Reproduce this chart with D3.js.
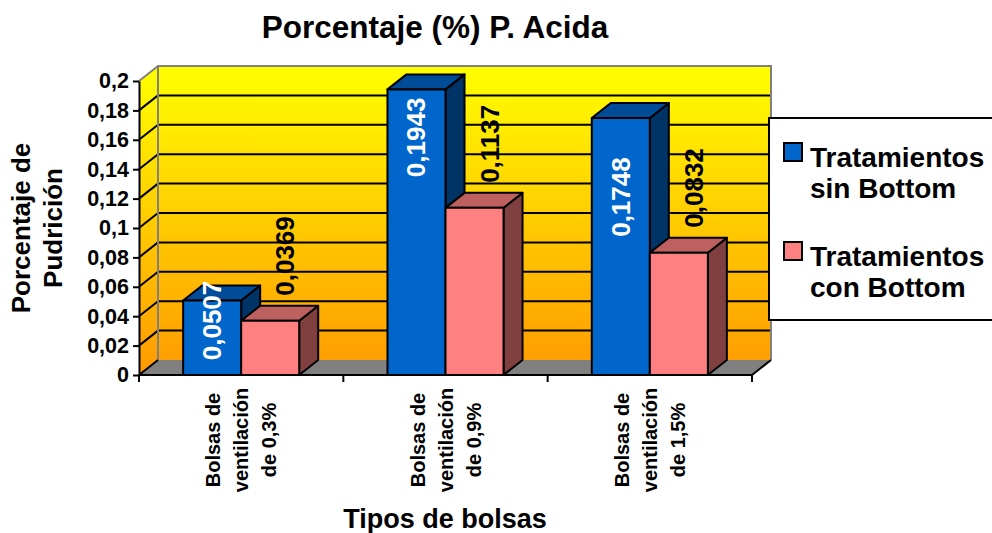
<!DOCTYPE html>
<html>
<head>
<meta charset="utf-8">
<script src="https://cdn.jsdelivr.net/npm/d3@7.9.0/dist/d3.min.js"></script>
<style>
  body { margin: 0; background: #fff; }
  svg { display: block; font-family: Arial, "Liberation Sans", sans-serif; font-weight: bold; }
</style>
</head>
<body>
<svg id="chart" width="992" height="533"></svg>
<script>
// Data
const categories = ["Bolsas de ventilación de 0,3%", "Bolsas de ventilación de 0,9%", "Bolsas de ventilación de 1,5%"];
const categoryLines = [
  ["Bolsas de", "ventilación", "de 0,3%"],
  ["Bolsas de", "ventilación", "de 0,9%"],
  ["Bolsas de", "ventilación", "de 1,5%"]
];
const seriesNames = ["Tratamientos sin Bottom", "Tratamientos con Bottom"];
const sinBottom = [0.0507, 0.1943, 0.1748];
const conBottom = [0.0369, 0.1137, 0.0832];
const yTicks = [0, 0.02, 0.04, 0.06, 0.08, 0.1, 0.12, 0.14, 0.16, 0.18, 0.2];
const yTickLabels = ["0", "0,02", "0,04", "0,06", "0,08", "0,1", "0,12", "0,14", "0,16", "0,18", "0,2"];

const svg = d3.select("#chart");

// Layout of the 3D plot (front plane + depth offset)
const plotLeft = 139, plotRight = 752, plotBottom = 375, plotTop = 81;
const dx = 19, dy = 15;

const x = d3.scaleBand().domain(categories).range([plotLeft, plotRight])
  .paddingInner(0.432).paddingOuter(0.216);
const xs = d3.scaleBand().domain(seriesNames).range([0, x.bandwidth()]);
const y = d3.scaleLinear().domain([0, 0.2]).range([plotBottom, plotTop]);

const colors = {
  "Tratamientos sin Bottom": { front: "#0066CC", top: "#004C99", side: "#003366" },
  "Tratamientos con Bottom": { front: "#FF8080", top: "#BF6060", side: "#804040" }
};

const fmt = d3.formatLocale({ decimal: ",", thousands: ".", grouping: [3], currency: ["", ""] }).format(".4f");

// Background gradient
const defs = svg.append("defs");
const grad = defs.append("linearGradient").attr("id", "wallGrad")
  .attr("gradientUnits", "userSpaceOnUse")
  .attr("x1", 0).attr("y1", y(0.2) - dy).attr("x2", 0).attr("y2", plotBottom);
grad.append("stop").attr("offset", "0%").attr("stop-color", "#FFFF00");
grad.append("stop").attr("offset", "100%").attr("stop-color", "#FF9900");

// Back wall
svg.append("rect")
  .attr("x", plotLeft + dx).attr("y", y(0.2) - dy)
  .attr("width", plotRight - plotLeft).attr("height", y(0) - y(0.2))
  .attr("fill", "url(#wallGrad)");

// Side wall
svg.append("path")
  .attr("d", `M${plotLeft},${y(0)} L${plotLeft},${y(0.2)} L${plotLeft + dx},${y(0.2) - dy} L${plotLeft + dx},${y(0) - dy} Z`)
  .attr("fill", "url(#wallGrad)");

// Gridlines on back wall and side wall
yTicks.slice(1, -1).forEach(t => {
  svg.append("line")
    .attr("x1", plotLeft + dx).attr("x2", plotRight + dx)
    .attr("y1", y(t) - dy).attr("y2", y(t) - dy)
    .attr("stroke", "#000").attr("stroke-width", 2);
  svg.append("line")
    .attr("x1", plotLeft).attr("x2", plotLeft + dx)
    .attr("y1", y(t)).attr("y2", y(t) - dy)
    .attr("stroke", "#000").attr("stroke-width", 2);
});

// Wall borders (gray)
svg.append("path")
  .attr("d", `M${plotLeft},${y(0.2)} L${plotLeft + dx},${y(0.2) - dy} L${plotRight + dx},${y(0.2) - dy} L${plotRight + dx},${y(0) - dy}`)
  .attr("fill", "none").attr("stroke", "#808080").attr("stroke-width", 2);
svg.append("line")
  .attr("x1", plotLeft + dx).attr("x2", plotLeft + dx)
  .attr("y1", y(0.2) - dy).attr("y2", y(0) - dy)
  .attr("stroke", "#808080").attr("stroke-width", 2);

// Floor
svg.append("path")
  .attr("d", `M${plotLeft},${y(0)} L${plotRight},${y(0)} L${plotRight + dx},${y(0) - dy} L${plotLeft + dx},${y(0) - dy} Z`)
  .attr("fill", "#808080");
svg.append("path")
  .attr("d", `M${plotLeft},${y(0)} L${plotLeft + dx},${y(0) - dy} M${plotRight},${y(0)} L${plotRight + dx},${y(0) - dy}`)
  .attr("stroke", "#000").attr("stroke-width", 2);

// Bars
const rows = categories.map((c, i) => ({ cat: c, values: [
  { name: seriesNames[0], value: sinBottom[i] },
  { name: seriesNames[1], value: conBottom[i] }
]}));

rows.forEach(r => {
  r.values.forEach(d => {
    const x0 = x(r.cat) + xs(d.name), w = xs.bandwidth();
    const yt = y(d.value), yb = y(0);
    const c = colors[d.name];
    const g = svg.append("g").attr("stroke", "#000").attr("stroke-width", 2).attr("stroke-linejoin", "round");
    g.append("path")
      .attr("d", `M${x0 + w},${yb} L${x0 + w},${yt} L${x0 + w + dx},${yt - dy} L${x0 + w + dx},${yb - dy} Z`)
      .attr("fill", c.side);
    g.append("path")
      .attr("d", `M${x0},${yt} L${x0 + dx},${yt - dy} L${x0 + w + dx},${yt - dy} L${x0 + w},${yt} Z`)
      .attr("fill", c.top);
    g.append("rect")
      .attr("x", x0).attr("y", yt).attr("width", w).attr("height", yb - yt)
      .attr("fill", c.front);
  });
});

// Y axis
const yAxis = svg.append("g")
  .attr("transform", `translate(${plotLeft},0)`)
  .call(d3.axisLeft(y).tickValues(yTicks).tickFormat((d, i) => yTickLabels[i]).tickSize(6).tickSizeOuter(0));
yAxis.select(".domain").attr("stroke", "#000").attr("stroke-width", 2);
yAxis.selectAll(".tick line").attr("stroke", "#000").attr("stroke-width", 2);
yAxis.selectAll(".tick text")
  .attr("font-size", 21.5).attr("font-weight", "bold").attr("font-family", "Arial, 'Liberation Sans', sans-serif")
  .attr("fill", "#000").attr("x", -10);

// X axis (ticks between categories)
svg.append("line")
  .attr("x1", plotLeft).attr("x2", plotRight).attr("y1", plotBottom).attr("y2", plotBottom)
  .attr("stroke", "#000").attr("stroke-width", 2);
const tickXs = [plotLeft].concat(categories.map(c => x(c) + x.bandwidth() + x.step() * x.paddingInner() / 2));
svg.selectAll(".xtick").data(tickXs).join("line")
  .attr("class", "xtick")
  .attr("x1", d => d).attr("x2", d => d).attr("y1", plotBottom).attr("y2", plotBottom + 7)
  .attr("stroke", "#000").attr("stroke-width", 2);

// Category labels (rotated)
categories.forEach((c, i) => {
  const cx = x(c) + x.bandwidth() / 2;
  categoryLines[i].forEach((t, j) => {
    svg.append("text")
      .attr("transform", `translate(${cx + (j - 1) * 28},440) rotate(-90)`)
      .attr("text-anchor", "middle").attr("dominant-baseline", "central")
      .attr("font-size", 20)
      .text(t);
  });
});

// Value labels
const blueShift = [20, 48, 79];
rows.forEach((r, i) => {
  const bx = x(r.cat) + xs(seriesNames[0]) + xs.bandwidth() / 2;
  svg.append("text")
    .attr("transform", `translate(${bx},${y(sinBottom[i]) + blueShift[i]}) rotate(-90)`)
    .attr("text-anchor", "middle").attr("dominant-baseline", "central")
    .attr("font-size", 26).attr("fill", "#fff")
    .text(fmt(sinBottom[i]));
  const px = x(r.cat) + xs(seriesNames[1]) + xs.bandwidth() / 2 + 15;
  svg.append("text")
    .attr("transform", `translate(${px},${y(conBottom[i]) - 25}) rotate(-90)`)
    .attr("text-anchor", "start").attr("dominant-baseline", "central")
    .attr("font-size", 26).attr("fill", "#000")
    .text(fmt(conBottom[i]));
});

// Title
svg.append("text")
  .attr("x", 435).attr("y", 38)
  .attr("text-anchor", "middle").attr("font-size", 31.5)
  .text("Porcentaje (%) P. Acida");

// Y title
[["Porcentaje de", 21], ["Pudrición", 53]].forEach(([t, cx]) => {
  svg.append("text")
    .attr("transform", `translate(${cx},228) rotate(-90)`)
    .attr("text-anchor", "middle").attr("dominant-baseline", "central")
    .attr("font-size", 26)
    .text(t);
});

// X title
svg.append("text")
  .attr("x", 445).attr("y", 528)
  .attr("text-anchor", "middle").attr("font-size", 27)
  .text("Tipos de bolsas");

// Legend
const legend = svg.append("g");
legend.append("rect")
  .attr("x", 769).attr("y", 118).attr("width", 240).attr("height", 202)
  .attr("fill", "#fff").attr("stroke", "#000").attr("stroke-width", 2);
const legendLines = [["Tratamientos", "sin Bottom"], ["Tratamientos", "con Bottom"]];
seriesNames.forEach((s, i) => {
  const ly = 143 + i * 99;
  legend.append("rect")
    .attr("x", 784).attr("y", ly).attr("width", 18).attr("height", 18)
    .attr("fill", colors[s].front).attr("stroke", "#000").attr("stroke-width", 2);
  legendLines[i].forEach((t, j) => {
    legend.append("text")
      .attr("x", 810).attr("y", ly + 24 + j * 31)
      .attr("font-size", 28)
      .text(t);
  });
});
</script>
</body>
</html>
